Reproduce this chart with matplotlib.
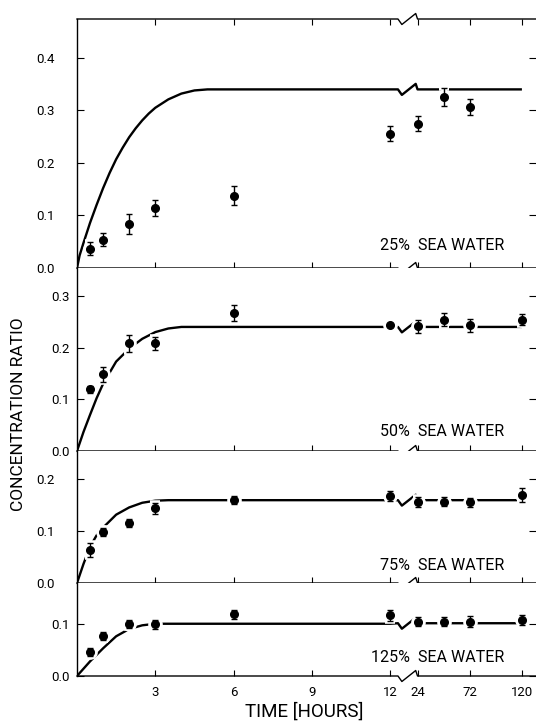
import numpy as np
import matplotlib
matplotlib.use('Agg')
import matplotlib.pyplot as plt
from matplotlib.ticker import FixedLocator, FormatStrFormatter

plt.rcParams['font.family'] = ['Roboto', 'DejaVu Sans']

# ---------------- data ----------------
panel_labels = ['25%  SEA WATER', '50%  SEA WATER', '75%  SEA WATER', '125%  SEA WATER']
x_ticks = [3, 6, 9, 12, 24, 72, 120]

time_25 = [0.5, 1, 2, 3, 6, 12, 24, 48, 72]
ratio_25 = [0.037, 0.054, 0.084, 0.114, 0.138, 0.256, 0.275, 0.326, 0.307]
err_25 = [0.013, 0.013, 0.019, 0.015, 0.018, 0.014, 0.014, 0.017, 0.015]

time_all = [0.5, 1, 2, 3, 6, 12, 24, 48, 72, 120]
ratio_50 = [0.119, 0.148, 0.208, 0.208, 0.267, 0.243, 0.241, 0.254, 0.243, 0.254]
err_50 = [0.007, 0.015, 0.016, 0.013, 0.015, 0.0, 0.012, 0.012, 0.012, 0.011]
ratio_75 = [0.064, 0.099, 0.116, 0.144, 0.160, 0.168, 0.157, 0.157, 0.156, 0.170]
err_75 = [0.014, 0.008, 0.007, 0.010, 0.008, 0.010, 0.010, 0.009, 0.009, 0.013]
ratio_125 = [0.046, 0.077, 0.099, 0.099, 0.118, 0.116, 0.104, 0.104, 0.104, 0.107]
err_125 = [0.008, 0.008, 0.008, 0.009, 0.009, 0.010, 0.009, 0.009, 0.010, 0.010]

# model curves
curve_t_25 = [0, 0.1, 0.25, 0.5, 0.75, 1.0, 1.25, 1.5, 1.75, 2.0, 2.25, 2.5, 2.75,
              3.0, 3.5, 4.0, 4.5, 5.0, 12]
curve_v_25 = [0, 0.024, 0.048, 0.086, 0.12, 0.152, 0.181, 0.207, 0.229, 0.249, 0.266,
              0.281, 0.294, 0.305, 0.321, 0.332, 0.338, 0.34, 0.34]
curve_t_50 = [0, 0.25, 0.5, 0.75, 1.0, 1.5, 2.0, 2.5, 3.0, 3.5, 4.0, 12]
curve_v_50 = [0, 0.037, 0.07, 0.102, 0.13, 0.173, 0.198, 0.217, 0.23, 0.237, 0.24, 0.24]
curve_t_75 = [0, 0.25, 0.5, 0.75, 1.0, 1.5, 2.0, 2.5, 3.0, 3.5, 12]
curve_v_75 = [0, 0.037, 0.07, 0.092, 0.107, 0.132, 0.146, 0.155, 0.159, 0.16, 0.16]
curve_t_125 = [0, 0.25, 0.5, 1.0, 1.5, 2.0, 2.5, 3.0, 12]
curve_v_125 = [0, 0.014, 0.028, 0.053, 0.076, 0.09, 0.097, 0.1, 0.1]
curve_right_t = [24, 120]
plateaus = [0.34, 0.24, 0.16, 0.101]

# ---------------- broken time scale ----------------
U24 = 13.05


def fwd(t):
    t = np.asarray(t, dtype=float)
    return np.where(t <= 12, t,
                    np.where(t >= 24, U24 + (t - 24) / 24.0,
                             12 + (t - 12) * (U24 - 12) / 12.0))


def inv(u):
    u = np.asarray(u, dtype=float)
    return np.where(u <= 12, u,
                    np.where(u >= U24, 24 + (u - U24) * 24.0,
                             12 + (u - 12) * 12.0 / (U24 - 12)))


U_MAX = 17.59
XMAX = float(inv(U_MAX))
zig_u = [12.30, 12.45, 12.98, U24]

fig = plt.figure(figsize=(5.36, 7.27), dpi=100)
heights = [249, 183, 132, 93]
gs = fig.add_gridspec(4, 1, height_ratios=heights, left=77 / 536, right=1.0,
                      top=1 - 19 / 727, bottom=1 - 676 / 727, hspace=0)

ylims = [0.474, 0.354, 0.255, 0.178]
yticks = [[0, 0.1, 0.2, 0.3, 0.4], [0, 0.1, 0.2, 0.3], [0, 0.1, 0.2], [0, 0.1]]
ypads = [16, 5.5, 16, 5.5]
label_y = [0.092, 0.104, 0.129, 0.194]

series_t = [time_25, time_all, time_all, time_all]
series_v = [ratio_25, ratio_50, ratio_75, ratio_125]
series_e = [err_25, err_50, err_75, err_125]
curves_t = [curve_t_25, curve_t_50, curve_t_75, curve_t_125]
curves_v = [curve_v_25, curve_v_50, curve_v_75, curve_v_125]

zx = inv(zig_u)

for i in range(4):
    ax = fig.add_subplot(gs[i])
    ax.set_xscale('function', functions=(fwd, inv))
    ax.set_xlim(0, XMAX)
    ax.set_ylim(0, ylims[i])
    for s in ['top', 'bottom', 'right']:
        ax.spines[s].set_visible(False)
    ax.spines['left'].set_linewidth(1.0)
    ax.xaxis.set_major_locator(FixedLocator(x_ticks))
    ax.xaxis.set_minor_locator(FixedLocator([]))
    ax.set_xticklabels([str(v) for v in x_ticks])
    ax.tick_params(axis='x', direction='in', length=4, width=0.8,
                   top=(i == 0), bottom=True, labelbottom=(i == 3),
                   labelsize=9.5, pad=7)
    ax.set_yticks(yticks[i])
    ax.yaxis.set_major_formatter(FormatStrFormatter('%.1f'))
    ax.tick_params(axis='y', direction='in', length=5, width=0.8,
                   left=True, right=True, labelsize=9.5, pad=ypads[i])

    # broken spines with zigzag
    h_px = ax.get_position().height * 727
    a = 5.5 / h_px
    xs = [0, zx[0], zx[1], zx[2], zx[3], XMAX]
    ax.plot(xs, [0, 0, -a, a, 0, 0], color='k', lw=1.0,
            transform=ax.get_xaxis_transform(), clip_on=False, zorder=5)
    if i == 0:
        ax.plot(xs, [1, 1, 1 - a, 1 + a, 1, 1], color='k', lw=1.0,
                transform=ax.get_xaxis_transform(), clip_on=False, zorder=5)

    # model curve with zigzag at the break
    p = plateaus[i]
    ad = 0.0105
    ct = list(curves_t[i]) + [zx[0], zx[1], zx[2], zx[3]] + curve_right_t
    cv = list(curves_v[i]) + [p, p - ad, p + ad, p] + [p] * len(curve_right_t)
    ax.plot(ct, cv, color='k', lw=1.7, zorder=2, solid_capstyle='butt',
            solid_joinstyle='round')

    # white halo under the measured points (gaps in the curve)
    ax.errorbar(series_t[i], series_v[i], yerr=series_e[i], fmt='o',
                color='white', ms=9.5, capsize=3.5, elinewidth=4,
                capthick=4, zorder=3)
    # measured points
    ax.errorbar(series_t[i], series_v[i], yerr=series_e[i], fmt='o',
                color='k', ms=5.5, capsize=2.3, elinewidth=1.0,
                capthick=1.0, zorder=4)

    ax.text(0.930, label_y[i], panel_labels[i], transform=ax.transAxes,
            ha='right', va='center', fontsize=11.5)

fig.text(19 / 536, 1 - 414 / 727, 'CONCENTRATION RATIO', rotation=90,
         ha='center', va='center', fontsize=12.5)
fig.text(304 / 536, 1 - 712 / 727, 'TIME [HOURS]', ha='center', va='center',
         fontsize=13.5)

fig.savefig('out.png', dpi=100)
